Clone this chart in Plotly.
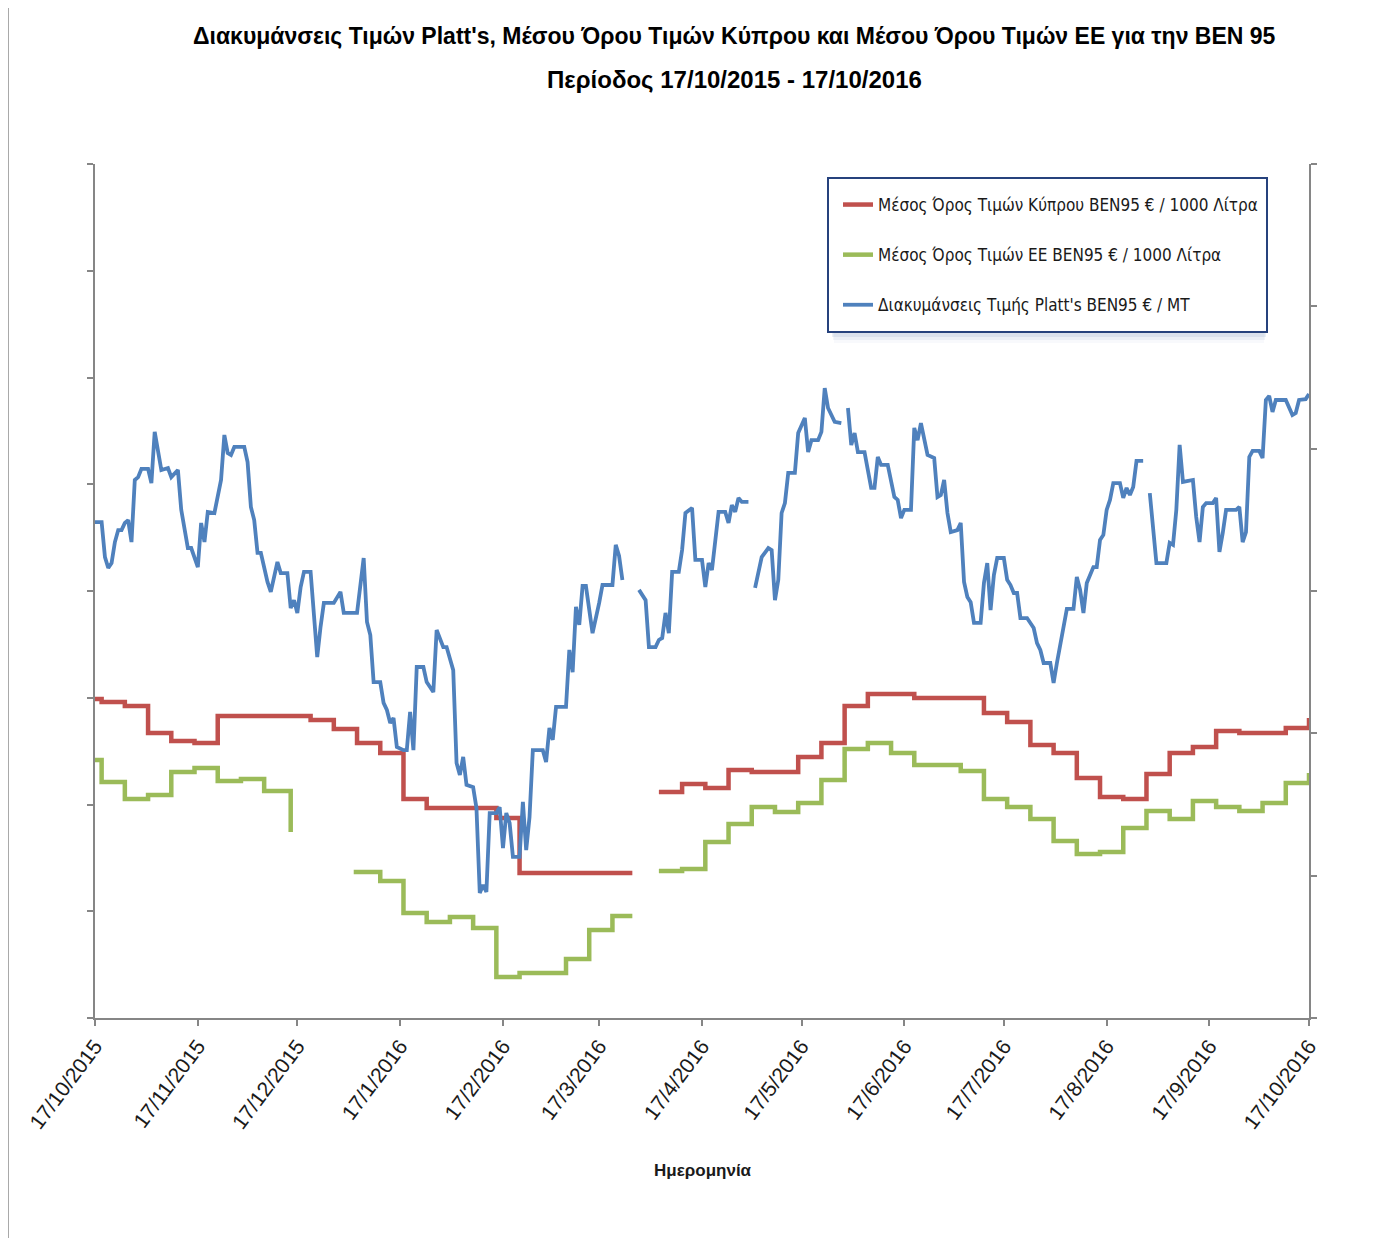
import plotly.graph_objects as go

# ---------------- data ----------------
series_names = [
    "Μέσος Όρος Τιμών Κύπρου BEN95 € / 1000 Λίτρα",
    "Μέσος Όρος Τιμών ΕΕ BEN95 € / 1000 Λίτρα",
    "Διακυμάνσεις Τιμής Platt's BEN95 € / MT",
]

cy_dates = ["2015-10-17", "2015-10-19", "2015-10-26", "2015-11-02", "2015-11-09", "2015-11-16",
            "2015-11-23", "2015-11-30", "2015-12-07", "2015-12-14", "2015-12-21", "2015-12-28",
            "2016-01-04", "2016-01-11", "2016-01-18", "2016-01-25", "2016-02-01", "2016-02-08",
            "2016-02-15", "2016-02-22", "2016-02-29", "2016-03-07", "2016-03-14", "2016-03-21",
            "2016-03-27", "2016-03-28",
            "2016-04-04", "2016-04-11", "2016-04-18", "2016-04-25", "2016-05-02", "2016-05-09",
            "2016-05-16", "2016-05-23", "2016-05-30", "2016-06-06", "2016-06-13", "2016-06-20",
            "2016-06-27", "2016-07-04", "2016-07-11", "2016-07-18", "2016-07-25", "2016-08-01",
            "2016-08-08", "2016-08-15", "2016-08-22", "2016-08-29", "2016-09-05", "2016-09-12",
            "2016-09-19", "2016-09-26", "2016-10-03", "2016-10-10", "2016-10-17"]
cy_values = [449.4, 448.0, 446.1, 433.5, 429.7, 428.8,
             441.5, 441.5, 441.5, 441.5, 439.6, 435.4,
             428.8, 424.1, 402.6, 398.4, 398.4, 398.4,
             393.7, 367.9, 367.9, 367.9, 367.9, 367.9,
             367.9, None,
             405.9, 409.6, 407.7, 416.2, 415.2, 415.2,
             422.2, 428.8, 446.1, 451.8, 451.8, 449.9,
             449.9, 449.9, 442.9, 438.6, 427.9, 424.1,
             412.4, 403.5, 402.6, 414.3, 424.1, 426.9,
             434.4, 433.5, 433.5, 435.8, 440.5]

eu_dates = ["2015-10-17", "2015-10-19", "2015-10-26", "2015-11-02", "2015-11-09", "2015-11-16",
            "2015-11-23", "2015-11-30", "2015-12-07", "2015-12-15", "2015-12-16",
            "2016-01-03", "2016-01-11", "2016-01-18", "2016-01-25", "2016-02-01", "2016-02-08",
            "2016-02-15", "2016-02-22", "2016-02-29", "2016-03-07", "2016-03-14", "2016-03-21",
            "2016-03-27", "2016-03-28",
            "2016-04-04", "2016-04-11", "2016-04-18", "2016-04-25", "2016-05-02", "2016-05-09",
            "2016-05-16", "2016-05-23", "2016-05-30", "2016-06-06", "2016-06-13", "2016-06-20",
            "2016-06-27", "2016-07-04", "2016-07-11", "2016-07-18", "2016-07-25", "2016-08-01",
            "2016-08-08", "2016-08-15", "2016-08-22", "2016-08-29", "2016-09-05", "2016-09-12",
            "2016-09-19", "2016-09-26", "2016-10-03", "2016-10-10", "2016-10-17"]
eu_values = [420.8, 410.5, 402.6, 404.4, 415.2, 417.1,
             411.0, 411.9, 406.3, 387.1, None,
             368.4, 364.2, 349.2, 345.0, 347.3, 342.2,
             319.2, 321.1, 321.1, 327.6, 341.2, 347.8,
             347.8, None,
             368.9, 369.8, 382.4, 390.9, 398.8, 396.5,
             400.7, 411.5, 426.0, 428.8, 424.1, 418.5,
             418.5, 415.7, 402.6, 398.8, 393.2, 382.9,
             376.8, 377.8, 389.0, 397.0, 393.2, 401.6,
             398.8, 397.0, 400.7, 410.1, 414.8]

platts_dates = [
    "2015-10-17", "2015-10-19", "2015-10-20", "2015-10-21", "2015-10-22", "2015-10-23", "2015-10-24",
    "2015-10-25", "2015-10-26", "2015-10-27", "2015-10-28", "2015-10-29", "2015-10-30", "2015-10-31",
    "2015-11-02", "2015-11-03", "2015-11-04", "2015-11-06", "2015-11-08", "2015-11-09", "2015-11-11",
    "2015-11-12", "2015-11-14", "2015-11-15", "2015-11-17", "2015-11-18", "2015-11-19", "2015-11-20",
    "2015-11-22", "2015-11-24", "2015-11-25", "2015-11-26", "2015-11-27", "2015-11-28", "2015-12-01",
    "2015-12-02", "2015-12-03", "2015-12-04", "2015-12-05", "2015-12-06", "2015-12-08", "2015-12-09",
    "2015-12-11", "2015-12-12", "2015-12-14", "2015-12-15", "2015-12-16", "2015-12-17", "2015-12-18",
    "2015-12-19", "2015-12-21", "2015-12-22", "2015-12-23", "2015-12-24", "2015-12-25", "2015-12-28",
    "2015-12-30", "2015-12-31", "2016-01-04", "2016-01-06", "2016-01-07", "2016-01-08", "2016-01-09",
    "2016-01-11", "2016-01-12", "2016-01-13", "2016-01-14", "2016-01-15", "2016-01-16", "2016-01-18",
    "2016-01-19", "2016-01-20", "2016-01-21", "2016-01-22", "2016-01-24", "2016-01-25", "2016-01-27",
    "2016-01-28", "2016-01-30", "2016-01-31", "2016-02-02", "2016-02-03", "2016-02-04", "2016-02-05",
    "2016-02-06", "2016-02-08", "2016-02-09", "2016-02-10", "2016-02-11", "2016-02-12", "2016-02-13",
    "2016-02-15", "2016-02-16", "2016-02-17", "2016-02-18", "2016-02-19", "2016-02-20", "2016-02-22",
    "2016-02-23", "2016-02-24", "2016-02-25", "2016-02-26", "2016-02-29", "2016-03-01", "2016-03-02",
    "2016-03-03", "2016-03-04", "2016-03-07", "2016-03-08", "2016-03-09", "2016-03-10", "2016-03-11",
    "2016-03-12", "2016-03-13", "2016-03-15", "2016-03-17", "2016-03-18", "2016-03-21", "2016-03-22",
    "2016-03-23", "2016-03-24", "2016-03-26",
    "2016-03-29", "2016-03-31", "2016-04-01", "2016-04-03", "2016-04-04", "2016-04-05", "2016-04-06",
    "2016-04-07", "2016-04-08", "2016-04-10", "2016-04-11", "2016-04-12", "2016-04-14", "2016-04-15",
    "2016-04-17", "2016-04-18", "2016-04-19", "2016-04-20", "2016-04-22", "2016-04-24", "2016-04-25",
    "2016-04-26", "2016-04-27", "2016-04-28", "2016-04-29", "2016-05-01", "2016-05-02",
    "2016-05-03", "2016-05-04", "2016-05-05", "2016-05-07", "2016-05-08", "2016-05-09", "2016-05-10",
    "2016-05-11", "2016-05-12", "2016-05-13", "2016-05-15", "2016-05-16", "2016-05-18", "2016-05-19",
    "2016-05-20", "2016-05-22", "2016-05-23", "2016-05-24", "2016-05-25", "2016-05-27", "2016-05-29",
    "2016-05-30",
    "2016-05-31", "2016-06-01", "2016-06-02", "2016-06-03", "2016-06-05", "2016-06-07", "2016-06-08",
    "2016-06-09", "2016-06-10", "2016-06-12", "2016-06-14", "2016-06-15", "2016-06-16", "2016-06-17",
    "2016-06-19", "2016-06-20", "2016-06-21", "2016-06-22", "2016-06-24", "2016-06-26", "2016-06-27",
    "2016-06-28", "2016-06-29", "2016-06-30", "2016-07-01", "2016-07-03", "2016-07-04", "2016-07-05",
    "2016-07-06", "2016-07-07", "2016-07-08", "2016-07-10", "2016-07-11", "2016-07-12", "2016-07-13",
    "2016-07-14", "2016-07-15", "2016-07-17", "2016-07-18", "2016-07-19", "2016-07-20", "2016-07-21",
    "2016-07-22", "2016-07-24", "2016-07-26", "2016-07-27", "2016-07-28", "2016-07-29", "2016-07-31",
    "2016-08-01", "2016-08-02", "2016-08-03", "2016-08-04", "2016-08-05", "2016-08-07", "2016-08-08",
    "2016-08-09", "2016-08-10", "2016-08-11", "2016-08-12", "2016-08-13", "2016-08-14", "2016-08-15",
    "2016-08-16", "2016-08-17", "2016-08-18", "2016-08-19", "2016-08-21", "2016-08-22", "2016-08-23",
    "2016-08-24", "2016-08-25", "2016-08-26", "2016-08-28", "2016-08-29",
    "2016-08-30", "2016-08-31", "2016-09-01", "2016-09-04", "2016-09-05", "2016-09-06", "2016-09-07",
    "2016-09-08", "2016-09-09", "2016-09-12", "2016-09-13", "2016-09-14", "2016-09-15", "2016-09-16",
    "2016-09-18", "2016-09-19", "2016-09-20", "2016-09-21", "2016-09-22", "2016-09-25", "2016-09-26",
    "2016-09-27", "2016-09-28", "2016-09-29", "2016-09-30", "2016-10-02", "2016-10-03", "2016-10-04",
    "2016-10-05", "2016-10-06", "2016-10-07", "2016-10-10", "2016-10-12", "2016-10-13", "2016-10-14",
    "2016-10-16", "2016-10-17"]
platts_values = [
    424.2, 424.2, 411.9, 408.1, 409.8, 417.2, 421.4,
    421.4, 423.9, 424.9, 417.2, 439.0, 440.0, 442.9,
    442.9, 437.9, 455.9, 442.5, 443.2, 440.0, 442.5,
    428.5, 415.1, 415.1, 408.4, 423.9, 417.2, 427.8,
    427.4, 439.0, 454.8, 448.5, 447.8, 450.6, 450.6,
    445.3, 429.5, 424.9, 413.4, 413.4, 403.2, 399.7,
    410.2, 406.3, 406.3, 394.0, 396.8, 392.3, 401.4,
    406.7, 406.7, 392.3, 376.8, 387.4, 395.8, 395.8,
    399.7, 392.3, 392.3, 411.6, 389.1, 384.5, 368.0,
    368.0, 360.7, 358.2, 353.6, 355.4, 345.2, 344.1,
    344.1, 357.5, 344.1, 373.3, 373.3, 368.0, 364.5,
    386.3, 380.3, 380.3, 372.2, 339.6, 335.4, 341.7,
    331.9, 331.1, 323.8, 293.9, 296.7, 294.3, 322.0,
    322.0, 324.1, 309.7, 322.0, 318.5, 306.6, 306.6,
    325.9, 309.0, 320.6, 344.1, 344.1, 339.9, 351.9,
    347.7, 359.3, 359.3, 379.3, 371.5, 394.4, 388.1,
    401.8, 401.8, 385.2, 395.8, 402.1, 402.1, 416.2,
    412.3, 403.9, None,
    400.4, 396.8, 380.3, 380.3, 382.8, 383.5, 392.3,
    385.2, 406.7, 406.7, 414.4, 427.4, 429.2, 410.9,
    410.9, 401.4, 409.8, 407.4, 427.8, 427.8, 423.9,
    430.2, 427.8, 432.7, 431.3, 431.3, None,
    401.1, 406.3, 411.9, 415.1, 414.4, 396.8, 403.9,
    427.4, 430.9, 441.5, 441.5, 455.5, 460.8, 448.8,
    453.0, 453.0, 455.9, 471.3, 464.3, 459.4, 459.0,
    None,
    464.3, 451.3, 455.5, 448.8, 448.8, 436.2, 436.2,
    447.1, 444.3, 444.3, 433.0, 432.0, 425.6, 428.5,
    428.5, 457.3, 453.0, 459.0, 447.8, 446.7, 433.0,
    433.7, 439.0, 427.4, 420.7, 421.4, 423.9, 403.2,
    397.9, 396.1, 388.8, 388.8, 402.8, 409.8, 393.3,
    405.6, 411.6, 411.6, 403.9, 402.1, 399.3, 399.3,
    390.5, 390.5, 387.0, 381.7, 379.3, 374.7, 374.7,
    367.7, 374.7, 381.7, 387.4, 393.7, 393.7, 404.9,
    400.4, 392.3, 402.8, 405.6, 408.4, 408.4, 417.9,
    419.7, 428.5, 432.0, 437.9, 437.9, 432.7, 436.2,
    433.7, 436.5, 445.7, 445.7, None,
    434.4, 422.5, 409.8, 409.8, 416.9, 416.2, 428.5,
    451.3, 438.3, 439.0, 426.0, 417.2, 429.5, 430.9,
    430.9, 432.7, 413.7, 420.4, 428.5, 428.5, 429.5,
    417.2, 420.7, 447.1, 449.2, 449.2, 446.7, 467.1,
    468.5, 462.9, 467.1, 467.1, 461.8, 462.5, 467.1,
    467.4, 469.2]

tick_dates = ["2015-10-17", "2015-11-17", "2015-12-17", "2016-01-17", "2016-02-17", "2016-03-17",
              "2016-04-17", "2016-05-17", "2016-06-17", "2016-07-17", "2016-08-17", "2016-09-17",
              "2016-10-17"]
tick_labels = ["17/10/2015", "17/11/2015", "17/12/2015", "17/1/2016", "17/2/2016", "17/3/2016",
               "17/4/2016", "17/5/2016", "17/6/2016", "17/7/2016", "17/8/2016", "17/9/2016",
               "17/10/2016"]

title_lines = ["Διακυμάνσεις Τιμών Platt's, Μέσου Όρου Τιμών Κύπρου και Μέσου Όρου Τιμών ΕΕ για την BEN 95",
               "Περίοδος 17/10/2015 - 17/10/2016"]
x_title = "Ημερομηνία"

# ---------------- style ----------------
FONT = "DejaVu Sans Condensed, DejaVu Sans, sans-serif"
TFONT = "Liberation Sans, Arial, sans-serif"
RED, GREEN, BLUE = "#C0504D", "#9BBB59", "#4F81BD"
AXIS = "#868686"

fig = go.Figure()
fig.add_trace(go.Scatter(x=cy_dates, y=cy_values, name=series_names[0], mode="lines",
                         line=dict(color=RED, width=4.5, shape="hv"), connectgaps=False,
                         legendgroup="a"))
fig.add_trace(go.Scatter(x=eu_dates, y=eu_values, name=series_names[1], mode="lines",
                         line=dict(color=GREEN, width=4.5, shape="hv"), connectgaps=False,
                         legendgroup="b"))
fig.add_trace(go.Scatter(x=platts_dates, y=platts_values, name=series_names[2], mode="lines",
                         line=dict(color=BLUE, width=3.8), connectgaps=False,
                         legendgroup="c", yaxis="y2"))

# page renders the figure with an 8px body offset; work in screen pixels
OFF = 8
W, H = 1373 - OFF, 1238 - OFF
PX0, PX1, PY0, PY1 = 95, 1309, 164, 1018          # plot area on screen
L, R = PX0 - OFF, W - (PX1 - OFF)
T, B = PY0 - OFF, H - (PY1 - OFF)
pw, ph = PX1 - PX0, PY1 - PY0


def px_x(x):
    return (x - PX0) / pw


def px_y(y):
    return (PY1 - y) / ph


fig.update_layout(
    width=W, height=H,
    margin=dict(l=L, r=R, t=T, b=B),
    paper_bgcolor="white", plot_bgcolor="white",
    font=dict(family=FONT, color="#1a1a1a"),
    showlegend=True,
    legend=dict(x=px_x(838), y=px_y(187), xanchor="left", yanchor="top",
                bgcolor="rgba(0,0,0,0)", borderwidth=0,
                font=dict(family=FONT, size=17, color="#1a1a1a"),
                tracegroupgap=25, traceorder="grouped"),
    xaxis=dict(type="date", range=[tick_dates[0], tick_dates[-1]],
               tickvals=tick_dates, ticktext=tick_labels, tickangle=-53,
               ticks="outside", ticklen=6, tickcolor=AXIS, tickwidth=1.5,
               showline=True, linecolor=AXIS, linewidth=1.5,
               showgrid=False, zeroline=False,
               tickfont=dict(family=TFONT, size=21, color="#1a1a1a")),
    yaxis=dict(range=[300, 700], dtick=50, tick0=300, ticks="outside", ticklen=6,
               tickcolor=AXIS, tickwidth=1.5, showticklabels=False,
               showline=True, linecolor=AXIS, linewidth=1.5,
               showgrid=False, zeroline=False),
    yaxis2=dict(range=[250, 550], dtick=50, tick0=250, ticks="outside", ticklen=6,
                tickcolor=AXIS, tickwidth=1.5, showticklabels=False,
                showline=True, linecolor=AXIS, linewidth=1.5,
                showgrid=False, zeroline=False, overlaying="y", side="right"),
)

# title lines and axis title
fig.add_annotation(text="<b>" + title_lines[0] + "</b>", xref="paper", yref="paper",
                   x=px_x(734), y=px_y(36), xanchor="center", yanchor="middle", showarrow=False,
                   font=dict(family=TFONT, size=23, color="#000000"))
fig.add_annotation(text="<b>" + title_lines[1] + "</b>", xref="paper", yref="paper",
                   x=px_x(734), y=px_y(79), xanchor="center", yanchor="middle", showarrow=False,
                   font=dict(family=TFONT, size=24, color="#000000"))
fig.add_annotation(text="<b>" + x_title + "</b>", xref="paper", yref="paper",
                   x=px_x(703), y=px_y(1170), xanchor="center", yanchor="middle", showarrow=False,
                   font=dict(family=TFONT, size=17, color="#1a1a1a"))

# chart-area left border, legend box and its shadow
fig.add_shape(type="line", xref="paper", yref="paper", x0=px_x(8), x1=px_x(8),
              y0=px_y(1238 + 5), y1=px_y(-5), line=dict(color="#8c8c8c", width=1.5))
for i, a in enumerate([0.10, 0.07, 0.04]):
    fig.add_shape(type="rect", xref="paper", yref="paper",
                  x0=px_x(832 + i), x1=px_x(1266 - i), y0=px_y(337 + 3 * i), y1=px_y(331),
                  line=dict(width=0), fillcolor=f"rgba(70,110,170,{a})", layer="below")
fig.add_shape(type="rect", xref="paper", yref="paper",
              x0=px_x(828), x1=px_x(1267), y0=px_y(332), y1=px_y(178),
              line=dict(color="#26427D", width=2), fillcolor="white", layer="above")

fig.write_html("out.html")
